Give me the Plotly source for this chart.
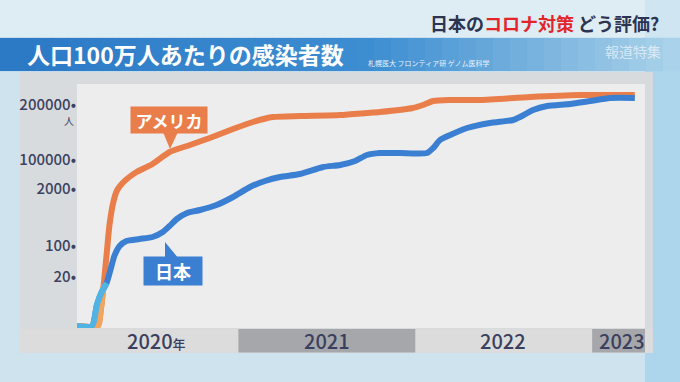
import plotly.graph_objects as go

# ---------------- data ----------------
# The original y axis is not proportional: its labels sit at fixed heights.
# Values below are read in that axis' plotted scale units.
Y_TICK_LABELS = ["20", "100", "2000", "100000", "200000"]
Y_TICK_POS = [49, 80, 137, 166, 221]

JAPAN_DATES = ["2020-02-03", "2020-03-05", "2020-03-15", "2020-03-25", "2020-04-04", "2020-04-12",
               "2020-04-20", "2020-05-01", "2020-05-15", "2020-06-11", "2020-07-08", "2020-07-29",
               "2020-08-12", "2020-08-27", "2020-09-17", "2020-10-14", "2020-11-17", "2020-12-21",
               "2021-01-25", "2021-02-25", "2021-03-28", "2021-05-08", "2021-06-25", "2021-07-30",
               "2021-08-30", "2021-09-23", "2021-10-20", "2021-12-01", "2022-01-25", "2022-02-07",
               "2022-02-21", "2022-03-14", "2022-04-18", "2022-06-04", "2022-07-22", "2022-08-05",
               "2022-09-01", "2022-09-30", "2022-11-16", "2022-12-28", "2023-02-07", "2023-03-30"]
JAPAN_VALUES = [0, 0, 21, 34, 43, 56,
                70, 80, 85, 87, 89, 94,
                100, 107, 113, 116, 121, 129,
                139, 145, 149, 152, 159, 161,
                165, 171, 173, 173, 173, 178,
                186, 191, 198, 203, 206, 209,
                216, 220, 222, 225, 228, 228]

US_DATES = ["2020-02-03", "2020-03-17", "2020-03-23", "2020-03-29", "2020-04-04", "2020-04-10",
            "2020-04-18", "2020-04-26", "2020-05-07", "2020-05-21", "2020-06-05", "2020-07-08",
            "2020-08-12", "2020-09-23", "2020-11-03", "2020-12-21", "2021-01-31", "2021-03-13",
            "2021-05-08", "2021-07-30", "2021-09-23", "2021-10-20", "2021-12-27", "2022-01-17",
            "2022-02-07", "2022-03-14", "2022-05-15", "2022-08-26", "2022-12-07", "2023-03-30"]
US_VALUES = [0, 0, 16, 41, 71, 101,
             124, 136, 143, 149, 154, 162,
             174, 181, 188, 197, 204, 209,
             210, 211, 213, 214, 218, 221,
             225, 226, 226, 229, 231, 231]

YEAR_LABELS = ["2020<span style='font-size:13px'>年</span>", "2021", "2022", "2023"]
YEAR_STARTS = ["2020-01-01", "2021-01-01", "2022-01-01", "2023-01-01"]
YEAR_ENDS = ["2021-01-01", "2022-01-01", "2023-01-01", "2023-04-30"]
YEAR_LABEL_POS = ["2020-07-17", "2021-07-02", "2022-07-02", "2023-03-03"]

X_RANGE = ["2020-02-03", "2023-04-20"]

FONT = "Noto Sans CJK JP"
ORANGE = "#ea7e4b"
BLUE = "#3a7fd1"
LIGHT_ORANGE = "#f2a55c"
LIGHT_BLUE = "#4fb3e3"

fig = go.Figure()

spline = dict(shape="spline", smoothing=0.6, width=6)
fig.add_trace(go.Scatter(x=US_DATES, y=US_VALUES, mode="lines",
                         line=dict(color=ORANGE, **spline), hoverinfo="skip", cliponaxis=False))
fig.add_trace(go.Scatter(x=JAPAN_DATES, y=JAPAN_VALUES, mode="lines",
                         line=dict(color=BLUE, **spline), hoverinfo="skip", cliponaxis=False))
fig.add_trace(go.Scatter(x=US_DATES[:4], y=US_VALUES[:4], mode="lines",
                         line=dict(color=LIGHT_ORANGE, **spline), hoverinfo="skip", cliponaxis=False))
fig.add_trace(go.Scatter(x=JAPAN_DATES[:5], y=JAPAN_VALUES[:5], mode="lines",
                         line=dict(color=LIGHT_BLUE, **spline), hoverinfo="skip", cliponaxis=False))

shapes = []
# background tint
shapes.append(dict(type="rect", xref="paper", yref="paper", x0=1.0, x1=1.07, y0=-0.25, y1=1.35,
                   fillcolor="rgba(150,205,235,0.6)", line_width=0, layer="below"))
shapes.append(dict(type="rect", xref="paper", yref="paper", x0=-0.14, x1=1.07, y0=1.19, y1=1.35,
                   fillcolor="rgba(235,244,248,0.55)", line_width=0, layer="below"))
# banner gradient
n = 40
c0 = (44, 122, 198)
c1 = (62, 142, 210)
c2 = (170, 210, 234)
x_start, x_end = -0.1356, 1.0616
for i in range(n):
    t = i / (n - 1)
    if t < 0.55:
        u = t / 0.55
        c = tuple(int(c0[k] + (c1[k] - c0[k]) * u) for k in range(3))
    else:
        u = (t - 0.55) / 0.45
        c = tuple(int(c1[k] + (c2[k] - c1[k]) * u) for k in range(3))
    xa = x_start + (x_end - x_start) * i / n
    xb = x_start + (x_end - x_start) * (i + 1) / n + 0.002
    shapes.append(dict(type="rect", xref="paper", yref="paper", x0=xa, x1=xb, y0=1.053, y1=1.189,
                       fillcolor="rgb(%d,%d,%d)" % c, line_width=0, layer="below"))
# panel frame and plot area
shapes.append(dict(type="rect", xref="paper", yref="paper", x0=-0.1004, x1=1.014, y0=-0.1025, y1=1.049,
                   fillcolor="#d8dbde", line_width=0, layer="below"))
shapes.append(dict(type="rect", xref="paper", yref="paper", x0=0, x1=1, y0=0, y1=1,
                   fillcolor="#ededed", line_width=0, layer="below"))
# year band (base light strip)
shapes.append(dict(type="rect", xref="paper", yref="paper", x0=-0.1004, x1=1.013, y0=-0.1, y1=-0.004,
                   fillcolor="#dcdcdc", line_width=0, layer="below"))
for i, (s, e) in enumerate(zip(YEAR_STARTS, YEAR_ENDS)):
    if i % 2 == 1:
        shapes.append(dict(type="rect", xref="x", yref="paper", x0=s, x1=e, y0=-0.1, y1=-0.004,
                           fillcolor="#a5a7ab", line_width=0, layer="below"))
# callout pointers (triangles)
def px2paper(px, py):
    return (px - 77) / 568, (328 - py) / 244

def tri(points, color):
    pts = [px2paper(*p) for p in points]
    path = "M %f %f L %f %f L %f %f Z" % (pts[0] + pts[1] + pts[2])
    return dict(type="path", xref="paper", yref="paper", path=path, fillcolor=color,
                line_width=0, layer="above")

shapes.append(tri([(163, 132), (178, 132), (170, 149)], ORANGE))
shapes.append(tri([(165, 259), (179, 259), (165, 242)], BLUE))

C = dict(xanchor="center", yanchor="middle", showarrow=False, xref="paper", yref="paper")

annotations = []
for lab, pos in zip(YEAR_LABELS, YEAR_LABEL_POS):
    annotations.append(dict(x=pos, y=-0.053, xref="x", yref="paper", text=lab, showarrow=False,
                            font=dict(family=FONT, size=20, color="#3b3f5e", weight=500),
                            xanchor="center", yanchor="middle"))

ax, ay = px2paper(169, 120)
annotations.append(dict(x=ax, y=ay, text="<b>アメリカ</b>",
                        bgcolor=ORANGE, width=72, height=22, borderpad=2,
                        font=dict(family=FONT, size=17, color="white"), **C))
jx, jy = px2paper(172.5, 271)
annotations.append(dict(x=jx, y=jy, text="<b>日本</b>",
                        bgcolor=BLUE, width=54, height=24, borderpad=2,
                        font=dict(family=FONT, size=18, color="white"), **C))
# unit
ux, uy = px2paper(69, 120)
annotations.append(dict(x=ux, y=uy, text="人",
                        font=dict(family=FONT, size=10, color="#3c4260"), **C))
# titles
tx, ty = px2paper(25, 54)
annotations.append(dict(x=tx, y=ty, xref="paper", yref="paper", xanchor="left", yanchor="middle",
                        text="<b>人口100万人あたりの感染者数</b>", showarrow=False,
                        font=dict(family=FONT, size=23, color="white")))
sx, sy = px2paper(366, 63)
annotations.append(dict(x=sx, y=sy, xref="paper", yref="paper", xanchor="left", yanchor="middle",
                        text="札幌医大 フロンティア研 ゲノム医科学", showarrow=False,
                        font=dict(family=FONT, size=7, color="rgba(255,255,255,0.9)")))
wx, wy = px2paper(633, 51)
annotations.append(dict(x=wx, y=wy, text="報道特集",
                        font=dict(family=FONT, size=14, color="rgba(255,255,255,0.6)"), **C))
hx, hy = px2paper(661, 23)
annotations.append(dict(x=hx, y=hy, xref="paper", yref="paper", xanchor="right", yanchor="middle",
                        text="<b>日本の<span style='color:#e3242b'>コロナ対策</span> どう評価?</b>",
                        showarrow=False, font=dict(family=FONT, size=18, color="#2c3452")))

fig.update_layout(
    width=680, height=382, autosize=False,
    margin=dict(l=77, r=35, t=84, b=54, pad=0),
    paper_bgcolor="#cfe3ee", plot_bgcolor="#ededed",
    showlegend=False,
    shapes=shapes, annotations=annotations,
    xaxis=dict(type="date", range=X_RANGE, showticklabels=False, showgrid=False,
               zeroline=False, showline=False, ticks=""),
    yaxis=dict(range=[-2, 242], tickvals=Y_TICK_POS, ticktext=[t + "•" for t in Y_TICK_LABELS],
               showgrid=False, zeroline=False, showline=False, ticks="", automargin=False,
               tickfont=dict(family=FONT, size=15, color="#3c4260", weight=500)),
)

fig.write_html("out.html", config={"displayModeBar": False},
               post_script="document.body.style.margin='0';document.body.style.overflow='hidden';")
